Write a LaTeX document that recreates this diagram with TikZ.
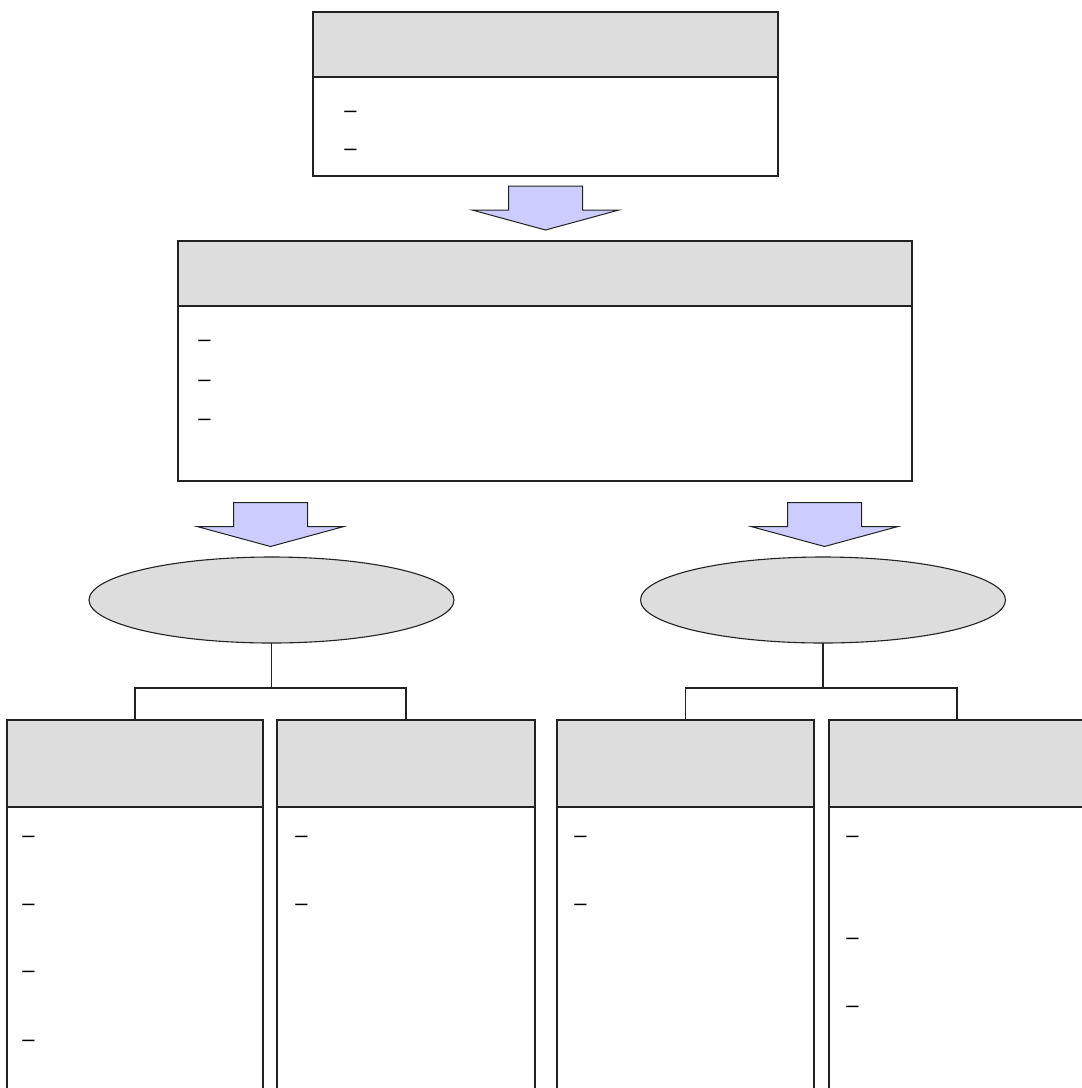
\documentclass[tikz,border=0pt]{standalone}
\usepackage{fontspec}
\setmainfont{Liberation Sans}
\usetikzlibrary{fit,shapes.geometric}
\definecolor{hdrgray}{HTML}{DDDDDD}
\definecolor{arrowblue}{HTML}{CCCCFF}
\definecolor{edgecol}{HTML}{222222}
\tikzset{
  hdr/.style={draw=edgecol, fill=hdrgray, inner sep=0pt, outer sep=0pt, line width=0.55pt},
  bodybox/.style={draw=edgecol, fill=white, inner sep=0pt, outer sep=0pt, line width=0.55pt},
  dashtxt/.style={anchor=west, inner sep=0pt, yshift=-1pt, font=\fontsize{11}{13}\selectfont},
  blockarrow/.style={draw=edgecol, fill=arrowblue, line width=0.5pt, line join=miter},
  oval/.style={ellipse, draw=edgecol, fill=hdrgray, inner sep=0pt, outer sep=0pt,
               minimum width=182.5pt, minimum height=43pt, line width=0.55pt},
  link/.style={draw=edgecol, line width=0.55pt},
  blockdown/.pic={
    \draw[blockarrow] (-37,0) -- (37,0) -- (37,24) -- (73.5,24) -- (0,44)
      -- (-73.5,24) -- (-37,24) -- cycle;
  }
}
\begin{document}
\begin{tikzpicture}[x=0.5pt,y=-0.5pt]
\clip (0,0) rectangle (1082,1088);
\fill[white] (0,0) rectangle (1082,1088);

% ---- top box ----
\node[bodybox, fit={(313,77) (778,176)}] (topbody) {};
\node[hdr, fit={(313,12) (778,77)}] (tophdr) {};
\node[dashtxt] (t1) at (344,112) {–};
\node[dashtxt] (t2) at (344,150) {–};

% ---- arrow 1 ----
\pic at (545.5,186) {blockdown};

% ---- middle box ----
\node[bodybox, fit={(178,306) (912,481)}] (midbody) {};
\node[hdr, fit={(178,241) (912,306)}] (midhdr) {};
\node[dashtxt] (m1) at (198,341) {–};
\node[dashtxt] (m2) at (198,381) {–};
\node[dashtxt] (m3) at (198,420) {–};

% ---- arrows to ovals ----
\pic at (270.5,502.5) {blockdown};
\pic at (824.5,502.5) {blockdown};

% ---- ovals ----
\node[oval] (ovL) at (271.5,600) {};
\node[oval] (ovR) at (823,600) {};

% ---- bottom boxes ----
\node[bodybox, fit={(7,807) (263,1100)}] (b1body) {};
\node[hdr, fit={(7,720) (263,807)}] (b1hdr) {};
\node[bodybox, fit={(277,807) (535,1100)}] (b2body) {};
\node[hdr, fit={(277,720) (535,807)}] (b2hdr) {};
\node[bodybox, fit={(557,807) (814,1100)}] (b3body) {};
\node[hdr, fit={(557,720) (814,807)}] (b3hdr) {};
\node[bodybox, fit={(829,807) (1085,1100)}] (b4body) {};
\node[hdr, fit={(829,720) (1085,807)}] (b4hdr) {};

% dashes in bottom boxes
\node[dashtxt] (d11) at (22,837) {–};
\node[dashtxt] (d12) at (22,905) {–};
\node[dashtxt] (d13) at (22,972) {–};
\node[dashtxt] (d14) at (22,1041) {–};
\node[dashtxt] (d21) at (295,837) {–};
\node[dashtxt] (d22) at (295,905) {–};
\node[dashtxt] (d31) at (574,837) {–};
\node[dashtxt] (d32) at (574,905) {–};
\node[dashtxt] (d41) at (846,837) {–};
\node[dashtxt] (d42) at (846,939) {–};
\node[dashtxt] (d43) at (846,1007) {–};

% ---- tree connectors ----
\coordinate (jL) at (271.5,688);
\coordinate (jR) at (823,688);
\draw[link] (ovL.south) -- (jL);
\draw[link] (b1hdr.north) |- (jL) -| (b2hdr.north);
\draw[link] (ovR.south) -- (jR);
\draw[link] (b3hdr.north) |- (jR) -| (b4hdr.north);
\end{tikzpicture}
\end{document}
